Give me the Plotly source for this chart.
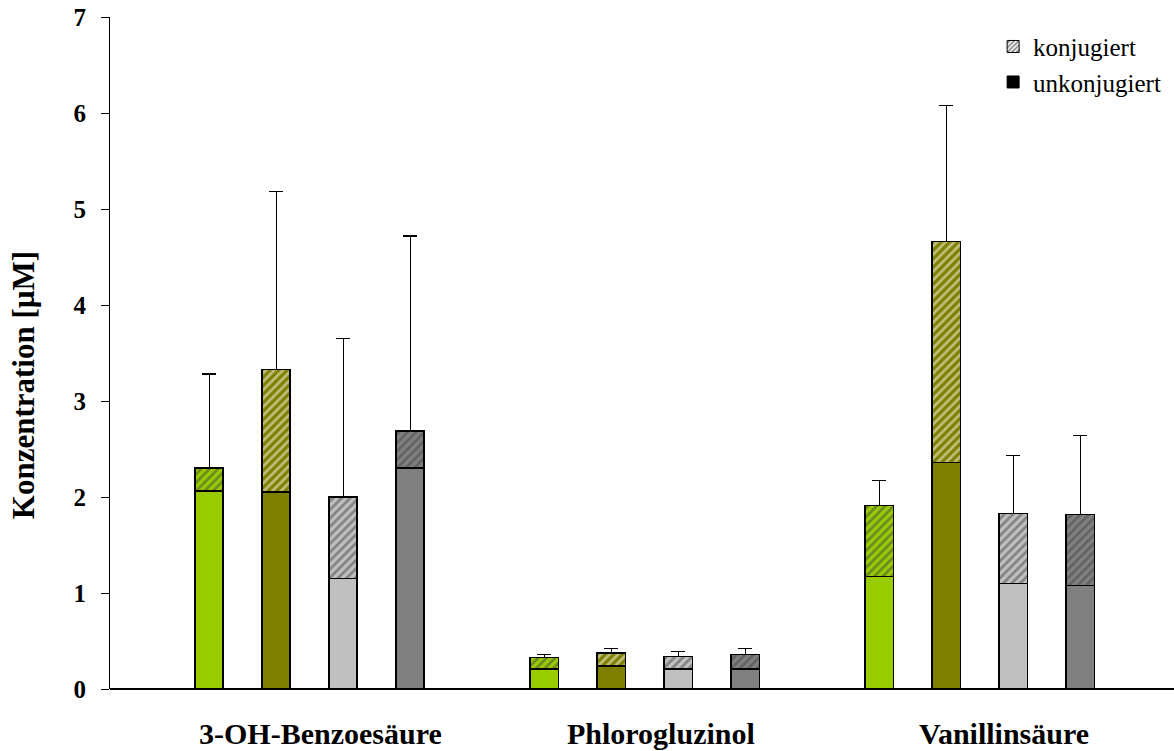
import plotly.graph_objects as go

# Substances (groups) and the four bars within each group
categories = ["3-OH-Benzoesäure", "Phlorogluzinol", "Vanillinsäure"]
bar_colors = ["#99CC00", "#808000", "#C0C0C0", "#808080"]

# unconjugated part (solid, bottom), per group: 4 bars
unkonjugiert = [
    [2.06, 2.05, 1.15, 2.30],
    [0.21, 0.24, 0.21, 0.21],
    [1.17, 2.36, 1.10, 1.08],
]
# total concentration (conjugated + unconjugated)
gesamt = [
    [2.30, 3.33, 2.00, 2.69],
    [0.33, 0.375, 0.34, 0.36],
    [1.91, 4.66, 1.83, 1.82],
]
# upper end of the error bar
fehler_oben = [
    [3.28, 5.18, 3.65, 4.72],
    [0.36, 0.42, 0.39, 0.42],
    [2.17, 6.08, 2.43, 2.64],
]

y_ticks = [0, 1, 2, 3, 4, 5, 6, 7]

# layout constants
bar_offsets = [-0.3, -0.1, 0.1, 0.3]
bar_width = 0.084
label_pos = [0.032, 1.05, 2.073]

xs, base_vals, top_vals, err_vals, cols = [], [], [], [], []
for g in range(len(categories)):
    for k in range(4):
        xs.append(g + bar_offsets[k])
        base_vals.append(unkonjugiert[g][k])
        top_vals.append(round(gesamt[g][k] - unkonjugiert[g][k], 4))
        err_vals.append(round(fehler_oben[g][k] - gesamt[g][k], 4))
        cols.append(bar_colors[k])

fig = go.Figure()

fig.add_trace(go.Bar(
    x=xs, y=base_vals, width=bar_width,
    marker=dict(color=cols, line=dict(color="black", width=1.5)),
    showlegend=False,
))
fig.add_trace(go.Bar(
    x=xs, y=top_vals, width=bar_width,
    marker=dict(
        color=cols,
        line=dict(color="black", width=1.5),
        pattern=dict(shape="/", bgcolor="white", fgcolor=cols, size=6, solidity=0.45),
    ),
    error_y=dict(type="data", symmetric=False, array=err_vals,
                 arrayminus=[0] * len(err_vals), color="black", thickness=1.3, width=7),
    showlegend=False,
))

# legend entries
fig.add_trace(go.Bar(
    x=[None], y=[None], name="konjugiert",
    marker=dict(color="black", line=dict(color="black", width=1),
                pattern=dict(shape="/", bgcolor="white", fgcolor="black", size=4, solidity=0.5)),
))
fig.add_trace(go.Bar(
    x=[None], y=[None], name="unkonjugiert",
    marker=dict(color="black", line=dict(color="black", width=1)),
))

for g, name in enumerate(categories):
    fig.add_annotation(
        x=label_pos[g], y=0, xref="x", yref="y", yshift=-44,
        text=f"<b>{name}</b>", showarrow=False,
        font=dict(family="Liberation Serif", size=30, color="black"),
    )

# axis title placed as a rotated annotation
fig.add_annotation(
    x=-0.0818, y=0.452, xref="paper", yref="paper", textangle=-90,
    xanchor="center", yanchor="middle",
    text="<b>Konzentration [µM]</b>", showarrow=False,
    font=dict(family="Liberation Serif", size=31, color="black"),
)

fig.update_layout(
    width=1174, height=751,
    barmode="stack",
    plot_bgcolor="white", paper_bgcolor="white",
    margin=dict(l=110, r=0, t=17, b=62),
    font=dict(family="Liberation Serif", color="black"),
    legend=dict(x=0.83, y=0.99, xanchor="left", yanchor="top",
                font=dict(size=25, family="Liberation Serif"),
                traceorder="normal",
                bgcolor="rgba(0,0,0,0)", tracegroupgap=0, itemwidth=30),
    xaxis=dict(range=[-0.596, 2.58], showticklabels=False, ticks="",
               showgrid=False, zeroline=False, showline=False),
    yaxis=dict(range=[0, 7], tickvals=y_ticks, ticks="outside", ticklen=8,
               tickwidth=1, tickcolor="black", showline=True, linecolor="black",
               linewidth=1, showgrid=False, zeroline=True, zerolinecolor="black",
               zerolinewidth=1.5, ticklabelstandoff=10,
               tickfont=dict(size=25, family="Liberation Serif", weight="bold")),
)

fig.write_html("out.html")
